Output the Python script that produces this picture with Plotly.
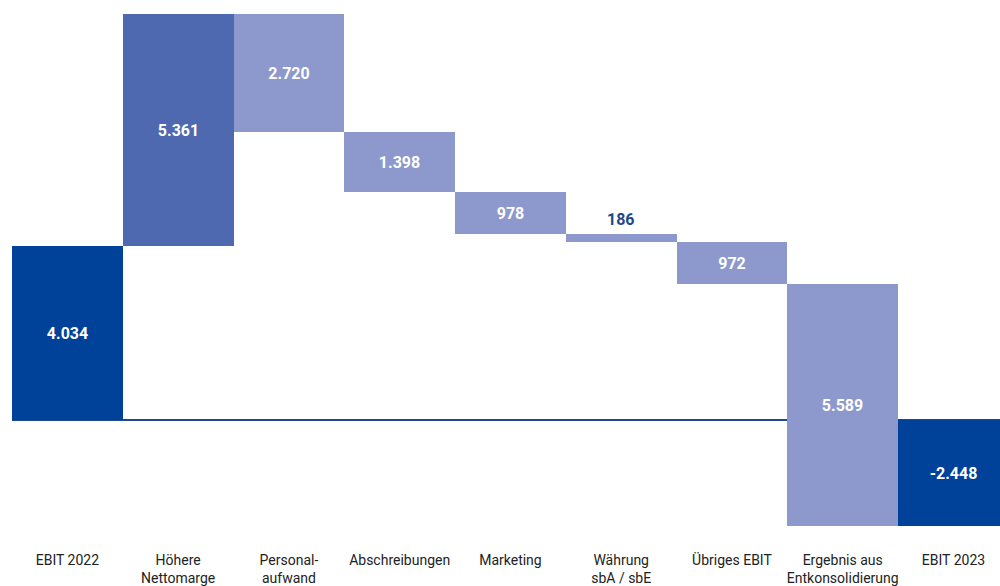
import plotly.graph_objects as go

categories = ["EBIT 2022", "Höhere<br>Nettomarge", "Personal-<br>aufwand", "Abschreibungen",
              "Marketing", "Währung<br>sbA / sbE", "Übriges EBIT", "Ergebnis aus<br>Entkonsolidierung",
              "EBIT 2023"]
values = [4034, 5361, -2720, -1398, -978, -186, -972, -5589, 0]
measures = ["absolute", "relative", "relative", "relative", "relative", "relative", "relative", "relative", "total"]
labels = ["4.034", "5.361", "2.720", "1.398", "978", "186", "972", "5.589", "-2.448"]
outside_idx = [5]  # label drawn above the bar

bar_text = ["" if i in outside_idx else t for i, t in enumerate(labels)]

fig = go.Figure(go.Waterfall(
    x=categories, y=values, measure=measures,
    text=bar_text, textposition="inside",
    texttemplate="<b>%{text}</b>",
    insidetextfont=dict(color="white", size=16, family="Roboto"),
    insidetextanchor="middle",
    constraintext="none",
    increasing=dict(marker=dict(color="#4f69b0")),
    decreasing=dict(marker=dict(color="#8d99cc")),
    totals=dict(marker=dict(color="#00419a")),
    connector=dict(visible=False),
    hoverinfo="skip",
))

# running totals to place outside labels
running = 0
tops = []
for v, m in zip(values, measures):
    if m == "absolute":
        start, running = 0, v
    elif m == "relative":
        start, running = running, running + v
    else:
        start = 0
    tops.append(max(start, running))

for i in outside_idx:
    fig.add_annotation(x=categories[i], y=tops[i], text="<b>" + labels[i] + "</b>",
                       showarrow=False, yanchor="bottom", yshift=3,
                       font=dict(color="#1b4a8c", size=16, family="Roboto"))

fig.update_layout(
    width=1000, height=586,
    margin=dict(l=12, r=0, t=0, b=51),
    plot_bgcolor="white", paper_bgcolor="white",
    waterfallgap=0,
    showlegend=False,
    font=dict(family="Roboto", size=14, color="#222222"),
    uniformtext=dict(minsize=8, mode="show"),
)
fig.update_xaxes(range=[-0.5, 8.42], showgrid=False, showline=False, ticks="", automargin=False,
                 tickfont=dict(size=14, color="#222222", family="Roboto"), ticklabelstandoff=15)
fig.update_yaxes(range=[-2661, 9719], showgrid=False, showticklabels=False, automargin=False,
                 zeroline=True, zerolinecolor="#1f4690", zerolinewidth=1.5)

fig.write_html("out.html", config={"displayModeBar": False},
               post_script="document.body.style.margin='0';document.body.style.overflow='hidden';")
